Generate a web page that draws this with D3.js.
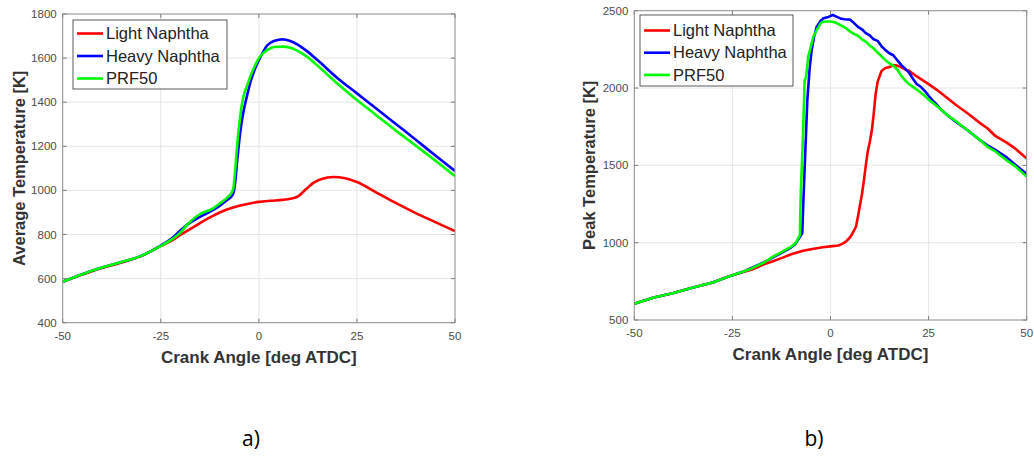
<!DOCTYPE html>
<html>
<head>
<meta charset="utf-8">
<script src="https://cdnjs.cloudflare.com/ajax/libs/d3/7.8.5/d3.min.js"></script>
<style>
  html, body { margin: 0; padding: 0; background: #fff; }
  svg { display: block; font-family: "Liberation Sans", Arial, sans-serif; }
</style>
</head>
<body>
<svg id="chart" width="1034" height="457"></svg>
<script>
// Panel a: average in-cylinder temperature
const seriesNames = ["Light Naphtha", "Heavy Naphtha", "PRF50"];
const seriesColors = ["#ff0000", "#0000ff", "#00ff00"];

const xTicks = [-50, -25, 0, 25, 50];
const avgTicks = [400, 600, 800, 1000, 1200, 1400, 1600, 1800];
const peakTicks = [500, 1000, 1500, 2000, 2500];

const avgLightX = [-50,-45,-40,-35,-30,-25,-22,-20,-17,-15,-12,-10,-7,-5,-2,0,3,6,8,10,12,14,16,19,22,25,30,35,40,45,50];
const avgLightY = [586,618,648,673,702,748,775,798,830,852,882,900,920,930,942,948,953,957,962,973,1005,1035,1052,1061,1055,1038,990,942,897,856,815];

const avgHeavyX = [-50,-45,-40,-35,-30,-25,-22,-20,-18,-15,-12,-10,-8,-7,-6.5,-6,-5.5,-5,-4.5,-4,-3,-2,-1,0,1,2,3,5,6,8,10,12,15,20,25,30,35,40,45,50];
const avgHeavyY = [586,620,650,675,703,750,785,818,848,880,908,930,958,972,988,1040,1140,1225,1295,1350,1430,1500,1550,1590,1625,1655,1670,1683,1685,1678,1660,1635,1590,1510,1440,1370,1300,1230,1158,1088];

const avgPrfX = [-50,-45,-40,-35,-30,-25,-22,-20,-18,-15,-12,-10,-8,-7,-6.5,-6,-5.5,-5,-4.5,-4,-3,-2,-1,0,1,2,3,4,6,8,10,12,15,20,25,30,35,40,45,50];
const avgPrfY = [586,620,650,675,703,748,780,808,850,893,915,940,968,988,1010,1100,1210,1300,1370,1420,1475,1525,1565,1600,1620,1635,1645,1650,1652,1647,1632,1610,1565,1485,1410,1340,1270,1203,1135,1065];

// Panel b: peak in-cylinder temperature
const peakLightX = [-50,-45,-40,-35,-30,-25,-22,-20,-17,-15,-12,-10,-7,-5,-2,0,2,3,4,5,5.5,6,6.5,7,7.5,8,8.5,9,9.5,10,10.5,11,11.5,12,13,14,15,16,17,18,19,20,22,25,27,30,32,35,38,40,42,45,47,50];
const peakLightY = [605,645,675,710,742,790,812,826,860,877,905,925,948,958,970,976,982,992,1008,1035,1055,1080,1103,1170,1240,1310,1400,1500,1590,1650,1720,1830,1960,2040,2110,2130,2135,2148,2145,2135,2120,2112,2075,2025,1990,1930,1890,1835,1775,1740,1690,1645,1610,1545];

const peakHeavyX = [-50,-45,-40,-35,-30,-25,-22,-20,-17,-15,-12,-10,-9,-8,-7.2,-6.9,-6.4,-5.9,-5.3,-4.8,-4.2,-3.5,-2.5,-1.8,-0.5,0.6,1.5,2.5,3.5,5,6,7,8,9,10,11,12,13,14,15,16,17,18,19,20,21,22,23,24,25,26,27,28,30,32,35,38,40,42,45,47,50];
const peakHeavyY = [605,645,675,710,742,790,815,838,872,900,940,970,990,1030,1060,1276,1600,1923,2130,2246,2330,2397,2435,2451,2460,2472,2462,2450,2445,2442,2420,2395,2380,2355,2340,2315,2305,2270,2245,2225,2212,2180,2150,2125,2100,2060,2025,2008,1982,1950,1920,1895,1865,1820,1780,1725,1665,1630,1600,1550,1505,1445];

const peakPrfX = [-50,-45,-40,-35,-30,-25,-22,-20,-17,-15,-12,-10,-9,-8.5,-7.8,-7.6,-7,-6.6,-6.2,-5.7,-5.2,-4.4,-3.5,-2.5,-1.8,-1,0,1,2,3,4,5,6,7,8,9,10,11,12,13,14,15,16,17,18,19,20,22,24,25,27,30,32,35,38,40,42,45,47,50];
const peakPrfY = [605,645,675,710,742,790,815,835,870,905,945,975,995,1015,1050,1300,1700,2050,2070,2200,2250,2330,2375,2420,2429,2430,2430,2425,2415,2400,2385,2365,2350,2338,2315,2300,2275,2255,2230,2205,2180,2160,2145,2120,2080,2050,2025,1990,1950,1925,1885,1820,1785,1725,1665,1620,1590,1530,1495,1427];

const svg = d3.select("#chart");

function drawPanel(cfg) {
    const { left, right, top, bottom } = cfg.box;
    const x = d3.scaleLinear().domain([-50, 50]).range([left, right]);
    const y = d3.scaleLinear().domain(cfg.yDomain).range([bottom, top]);
    const g = svg.append("g");

    // grid
    g.selectAll(".gx").data(xTicks.slice(1, -1)).enter().append("line")
        .attr("x1", d => x(d)).attr("x2", d => x(d))
        .attr("y1", top).attr("y2", bottom)
        .attr("stroke", "#e6e6e6").attr("stroke-width", 1);
    g.selectAll(".gy").data(cfg.yTicks.slice(1, -1)).enter().append("line")
        .attr("x1", left).attr("x2", right)
        .attr("y1", d => y(d)).attr("y2", d => y(d))
        .attr("stroke", "#e6e6e6").attr("stroke-width", 1);

    // tick marks (inward, both sides)
    const tk = 4;
    xTicks.forEach(t => {
        g.append("line").attr("x1", x(t)).attr("x2", x(t)).attr("y1", bottom).attr("y2", bottom - tk).attr("stroke", "#7a7a7a");
        g.append("line").attr("x1", x(t)).attr("x2", x(t)).attr("y1", top).attr("y2", top + tk).attr("stroke", "#7a7a7a");
    });
    cfg.yTicks.forEach(t => {
        g.append("line").attr("x1", left).attr("x2", left + tk).attr("y1", y(t)).attr("y2", y(t)).attr("stroke", "#7a7a7a");
        g.append("line").attr("x1", right).attr("x2", right - tk).attr("y1", y(t)).attr("y2", y(t)).attr("stroke", "#7a7a7a");
    });

    // tick labels
    g.selectAll(".xl").data(xTicks).enter().append("text")
        .attr("x", d => x(d)).attr("y", bottom + 17)
        .attr("text-anchor", "middle").attr("font-size", "11.5px").attr("fill", "#4d4d4d")
        .text(d => d);
    g.selectAll(".yl").data(cfg.yTicks).enter().append("text")
        .attr("x", left - 6).attr("y", d => y(d) + 4)
        .attr("text-anchor", "end").attr("font-size", "11.5px").attr("fill", "#4d4d4d")
        .text(d => d);

    // curves
    const line = d3.line().x(d => x(d[0])).y(d => y(d[1])).curve(cfg.curve);
    const clipId = "clip" + cfg.id;
    g.append("clipPath").attr("id", clipId).append("rect")
        .attr("x", left).attr("y", top).attr("width", right - left).attr("height", bottom - top);
    cfg.series.forEach((s, i) => {
        g.append("path")
            .datum(d3.zip(s[0], s[1]))
            .attr("clip-path", `url(#${clipId})`)
            .attr("fill", "none")
            .attr("stroke", seriesColors[i])
            .attr("stroke-width", 2.6)
            .attr("stroke-linejoin", "round")
            .attr("d", line);
    });

    // axes box
    g.append("rect")
        .attr("x", left).attr("y", top).attr("width", right - left).attr("height", bottom - top)
        .attr("fill", "none").attr("stroke", "#8a8a8a").attr("stroke-width", 1);

    // axis labels
    g.append("text")
        .attr("x", (left + right) / 2).attr("y", cfg.xLabelY)
        .attr("text-anchor", "middle").attr("font-size", "17px").attr("font-weight", "bold").attr("fill", "#333")
        .text("Crank Angle [deg ATDC]");
    g.append("text")
        .attr("transform", `translate(${cfg.yLabelX},${(top + bottom) / 2}) rotate(-90)`)
        .attr("text-anchor", "middle").attr("font-size", "16.5px").attr("font-weight", "bold").attr("fill", "#333")
        .text(cfg.yLabel);

    // legend
    const lg = cfg.legend;
    g.append("rect")
        .attr("x", lg.x).attr("y", lg.y).attr("width", lg.w).attr("height", lg.h)
        .attr("fill", "#fff").attr("stroke", "#333").attr("stroke-width", 0.8);
    seriesNames.forEach((name, i) => {
        const cy = lg.y + lg.first + i * lg.step;
        g.append("line")
            .attr("x1", lg.x + 4).attr("x2", lg.x + 30).attr("y1", cy).attr("y2", cy)
            .attr("stroke", seriesColors[i]).attr("stroke-width", 2.6);
        g.append("text")
            .attr("x", lg.x + 33).attr("y", cy + 5.7)
            .attr("font-size", "16.5px").attr("fill", "#222")
            .text(name);
    });

    // caption
    svg.append("text")
        .attr("x", cfg.captionX).attr("y", 446)
        .attr("text-anchor", "middle").attr("font-family", "'Open Sans', sans-serif")
        .attr("font-size", "21px").attr("fill", "#000")
        .text(cfg.caption);
}

drawPanel({
    id: "a",
    box: { left: 62.7, right: 455, top: 14, bottom: 322.7 },
    yDomain: [400, 1800],
    yTicks: avgTicks,
    yLabel: "Average Temperature [K]",
    yLabelX: 25,
    xLabelY: 362.5,
    curve: d3.curveMonotoneX,
    series: [[avgLightX, avgLightY], [avgHeavyX, avgHeavyY], [avgPrfX, avgPrfY]],
    legend: { x: 73, y: 20, w: 154, h: 69, first: 13.5, step: 22.5 },
    caption: "a)",
    captionX: 251
});

drawPanel({
    id: "b",
    box: { left: 634.3, right: 1026.7, top: 10.7, bottom: 320 },
    yDomain: [500, 2500],
    yTicks: peakTicks,
    yLabel: "Peak Temperature [K]",
    yLabelX: 595,
    xLabelY: 360,
    curve: d3.curveLinear,
    series: [[peakLightX, peakLightY], [peakHeavyX, peakHeavyY], [peakPrfX, peakPrfY]],
    legend: { x: 640, y: 15, w: 153, h: 71, first: 15.5, step: 22.2 },
    caption: "b)",
    captionX: 814
});
</script>
</body>
</html>
